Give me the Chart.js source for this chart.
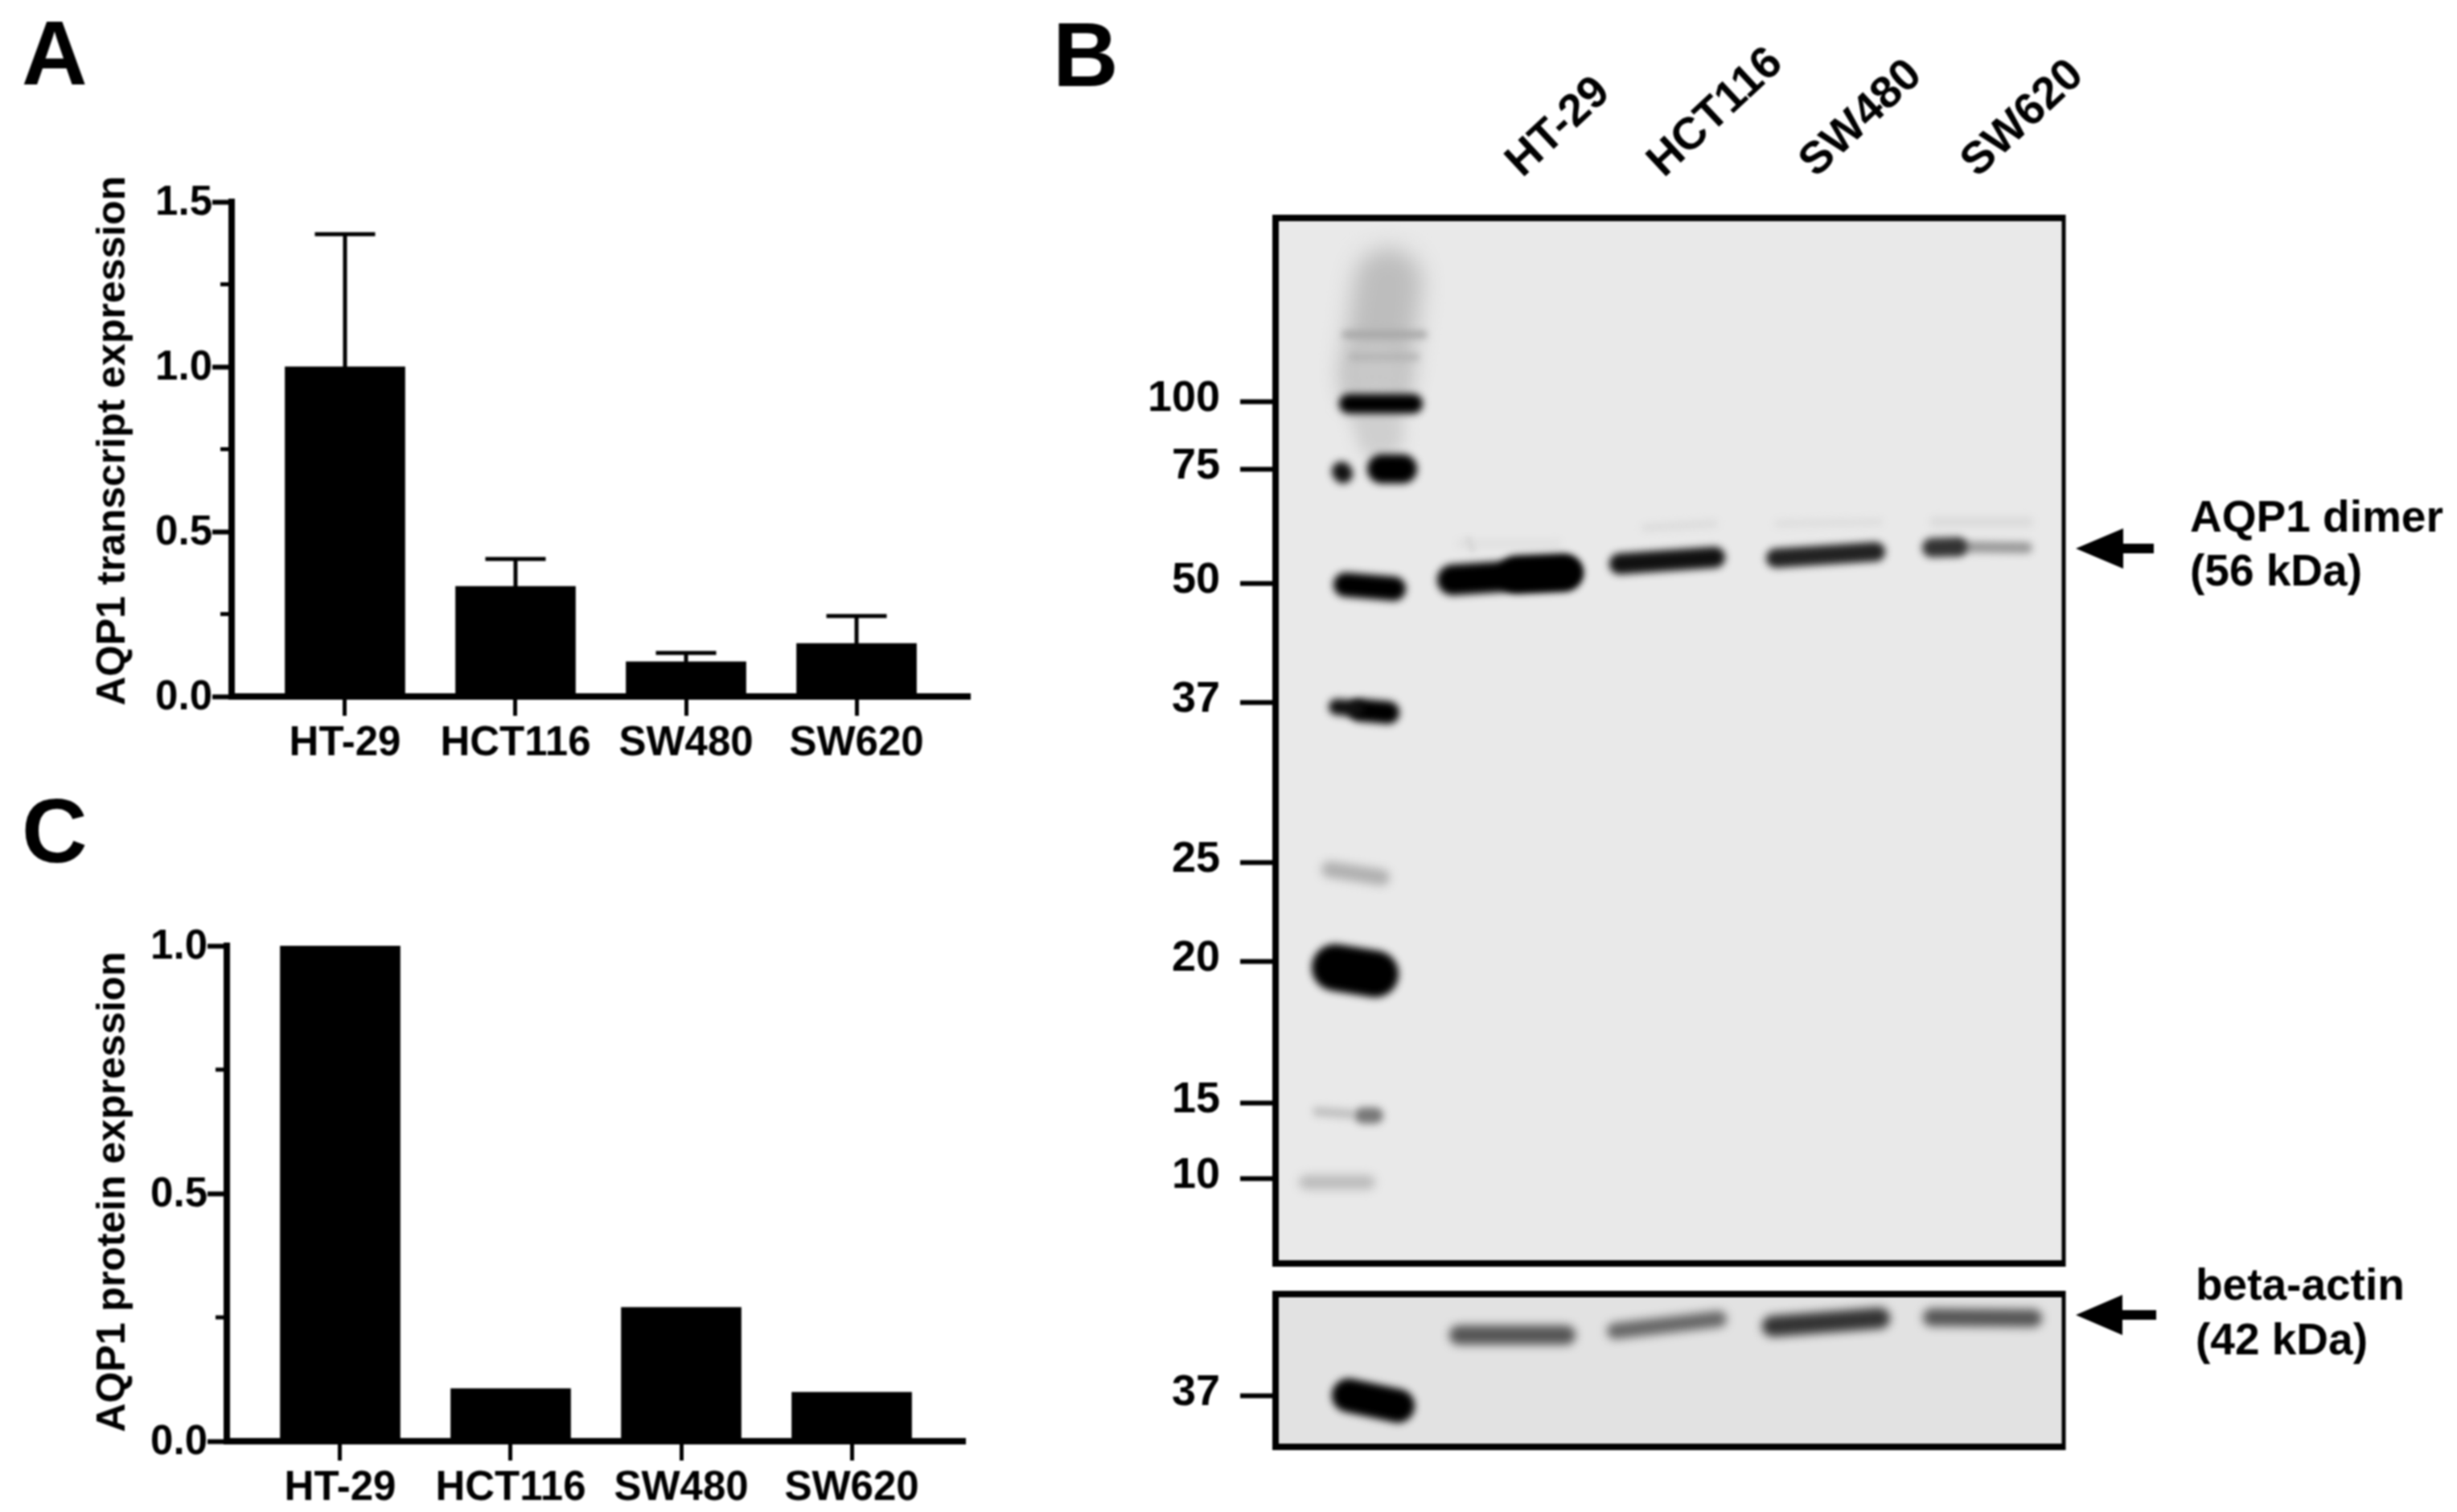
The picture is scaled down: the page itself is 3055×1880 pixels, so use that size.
<!DOCTYPE html>
<html>
<head>
<meta charset="utf-8">
<script src="https://cdn.jsdelivr.net/npm/chart.js@4"></script>
<style>
html,body{margin:0;padding:0;background:#fff;}
#page{position:absolute;left:0;top:0;width:3055px;height:1880px;background:#fff;overflow:hidden;filter:blur(1.2px);}
canvas{position:absolute;display:block;}
.t{position:absolute;font-family:"Liberation Sans",Arial,sans-serif;font-weight:700;color:#000;white-space:nowrap;}
.letter{font-size:113px;line-height:120px;}
.note{font-size:55px;line-height:60px;}
svg{position:absolute;left:0;top:0;}
</style>
</head>
<body>
<div id="page">
  <canvas id="chartA" width="1300" height="780" style="left:0;top:180px"></canvas>
  <canvas id="chartC" width="1300" height="780" style="left:0;top:1100px"></canvas>
  <canvas id="blotMain" width="1655" height="1880" style="left:1400px;top:0"></canvas>
  <canvas id="blotActin" width="1655" height="380" style="left:1400px;top:1500px"></canvas>
  <div class="t letter" style="left:27px;top:6px">A</div>
  <div class="t letter" style="left:1309px;top:8px">B</div>
  <div class="t letter" style="left:27px;top:973px">C</div>
  <div class="t note" style="left:2723px;top:612px">AQP1 dimer</div>
  <div class="t note" style="left:2723px;top:679px">(56 kDa)</div>
  <div class="t note" style="left:2730px;top:1567px">beta-actin</div>
  <div class="t note" style="left:2730px;top:1635px">(42 kDa)</div>
  <svg width="3055" height="1880">
    <polygon points="2581,682 2640,657 2640,676 2678,676 2678,688 2640,688 2640,707" fill="#000"/>
    <polygon points="2581,1635 2639,1610 2639,1629 2681,1629 2681,1641 2639,1641 2639,1660" fill="#000"/>
  </svg>
</div>
<script>
// ---- Bar panels (A, C) ----
const categories = ['HT-29', 'HCT116', 'SW480', 'SW620'];
const transcriptValues = [1.0, 0.334, 0.105, 0.161];
const transcriptErrorTops = [1.402, 0.417, 0.132, 0.244];
const proteinValues = [1.0, 0.106, 0.27, 0.099];
const transcriptMax = 1.5;
const proteinMax = 1.0;

// ---- Blot panel (B): positions are in gel units ----
const ladderLabels = ['100', '75', '50', '37', '25', '20', '15', '10'];
const ladderMigration = [228, 312, 454, 602, 801, 924, 1100, 1194];
const laneLabelPositions = [342, 518, 707, 908];
const actinLadderLabels = ['37'];
const actinLadderMigration = [126];

// each trace: x1, y1, x2, y2 (gel units)
const mainBandTraces = [
  [91,231,171,231],[132,312,158,312],[82,315,84,318],[87,456,147,461],
  [76,608,100,610],[105,612,140,615],[74,932,124,940],[108,1116,124,1116],
  [220,450,362,441],[300,443,358,441],[428,430,546,422],[622,423,746,415],
  [816,410,848,409],[850,409,934,410],
  [87,145,184,145],[95,173,175,173],[67,810,132,820],[52,1111,92,1114],[38,1199,115,1199],
  [240,400,245,412],[230,405,350,405],[460,385,545,380],[625,380,750,378],[820,378,935,378],
  [125,245,130,270],[125,190,125,215],[140,80,125,195]
];
const mainBandWidths = [24,36,24,30,20,28,58,20,38,46,26,24,24,14,9,7,20,12,18,8,10,10,10,14,60,75,85];
const mainBandColors = ['#000','#000','#111','#000','#111','#000','#000','#777','#000','#000','#111','#222',
  '#333','#999','#a5a5a5','#b0b0b0','#b0b0b0','#c0c0c0','#bcbcbc','#d8d8d8','#e0e0e0','#dcdcdc','#dedede','#dcdcdc',
  '#cfcfcf','#c8c8c8','#bdbdbd'];
const mainBandBlurs = [5,5,5,5,5,5,5,5,5,5,5,5,5,5,4,4,6,5,6,3,4,4,4,4,9,12,14];

const actinBandTraces = [
  [91,126,152,139],[228,51,361,51],[422,46,551,31],[618,40,751,30],[816,29,942,30]
];
const actinBandWidths = [42,24,20,26,22];
const actinBandColors = ['#000','#555','#666','#333','#555'];
const actinBandBlurs = [5,6,6,6,6];

const FONT = '"Liberation Sans", Arial, sans-serif';
Chart.defaults.animation = false;
Chart.defaults.devicePixelRatio = 1;

function axisFixed(size, prop) { return s => { s[prop] = size; }; }

function barPanel(id, values, errTops, yMax, yTitle, titleX, titleY, areaLeft, xAxisH, pad) {
  const extras = {
    id: 'extras' + id,
    afterDatasetsDraw(chart) {
      const c = chart.ctx, x = chart.scales.x, y = chart.scales.y;
      c.save();
      c.fillStyle = '#000';
      const area = chart.chartArea;
      y.ticks.forEach(t => {
        if (Math.abs(t.value / 0.5 - Math.round(t.value / 0.5)) > 1e-6) {
          c.fillRect(area.left - 14, y.getPixelForValue(t.value) - 2.5, 14, 5);
        }
      });
      if (errTops) errTops.forEach((top, i) => {
        const px = x.getPixelForValue(i), py = y.getPixelForValue(top), base = y.getPixelForValue(values[i]);
        c.fillRect(px - 2.5, py, 5, base - py);
        c.fillRect(px - 37.5, py - 2.5, 75, 5);
      });
      c.translate(titleX, titleY);
      c.rotate(-Math.PI / 2);
      c.font = 'bold 50px ' + FONT;
      c.textAlign = 'center';
      c.textBaseline = 'middle';
      c.fillText(yTitle, 0, 0);
      c.restore();
    }
  };
  return new Chart(document.getElementById(id), {
    type: 'bar',
    data: {
      labels: categories,
      datasets: [{
        data: values.map((v, i) => ({ x: i, y: v })),
        backgroundColor: '#000',
        borderWidth: 0,
        barThickness: 149
      }]
    },
    options: {
      responsive: false,
      layout: { padding: pad },
      plugins: { legend: { display: false }, tooltip: { enabled: false } },
      scales: {
        x: {
          type: 'linear', min: -0.665, max: 3.665, offset: false,
          afterBuildTicks: s => { s.ticks = categories.map((_, i) => ({ value: i })); },
          afterFit: axisFixed(xAxisH, 'height'),
          grid: { offset: false, drawOnChartArea: false, drawTicks: true, tickLength: 24, tickWidth: 5, tickColor: '#000' },
          border: { color: '#000', width: 8 },
          ticks: {
            autoSkip: false, maxRotation: 0, minRotation: 0, padding: 4, color: '#000',
            font: { family: FONT, weight: 'bold', size: 51 },
            callback: (v) => categories[v]
          }
        },
        y: {
          type: 'linear', min: 0, max: yMax,
          afterFit: axisFixed(areaLeft, 'width'),
          grid: {
            drawOnChartArea: false, drawTicks: true, tickLength: 24, tickWidth: 6,
            tickColor: ctx => (Math.abs(ctx.tick.value / 0.5 - Math.round(ctx.tick.value / 0.5)) < 1e-6 ? '#000' : 'rgba(0,0,0,0)')
          },
          border: { color: '#000', width: 8 },
          ticks: {
            stepSize: 0.25, autoSkip: false, padding: 0, labelOffset: 2, color: '#000',
            font: { family: FONT, weight: 'bold', size: 51 },
            callback: v => (Math.abs(v / 0.5 - Math.round(v / 0.5)) < 1e-6 ? v.toFixed(1) : '')
          }
        }
      }
    },
    plugins: [extras]
  });
}

barPanel('chartA', transcriptValues, transcriptErrorTops, transcriptMax, 'AQP1 transcript expression',
  141, 548 - 180, 288, 90, { top: 71, right: 94, bottom: 4, left: 0 });
barPanel('chartC', proteinValues, null, proteinMax, 'AQP1 protein expression',
  141, 1482 - 1100, 282, 80, { top: 76, right: 100, bottom: 8, left: 0 });

function blotPanel(id, traces, widths, colors, blurs, bg, yMax, tickVals, tickLabels, topLabels, pad, topH) {
  const blotFx = {
    id: 'blotFx' + id,
    beforeDatasetsDraw(chart) {
      const a = chart.chartArea, c = chart.ctx;
      c.save(); c.fillStyle = bg; c.fillRect(a.left, a.top, a.width, a.height); c.restore();
    },
    beforeDatasetDraw(chart, args) {
      const c = chart.ctx; c.save();
      c.filter = 'blur(' + blurs[args.index] + 'px)';
    },
    afterDatasetDraw(chart) { chart.ctx.restore(); },
    afterDatasetsDraw(chart) {
      const a = chart.chartArea, c = chart.ctx;
      c.save(); c.fillStyle = '#000';
      c.fillRect(a.left - 4, a.top - 4, a.width + 4, 8);
      c.fillRect(a.left - 4, a.bottom - 4, a.width + 4, 8);
      c.fillRect(a.left - 4, a.top - 4, 8, a.height + 8);
      c.fillRect(a.right - 2.5, a.top - 4, 5, a.height + 8);
      c.restore();
    }
  };
  return new Chart(document.getElementById(id), {
    type: 'line',
    data: {
      datasets: traces.map((t, i) => ({
        data: [{ x: t[0], y: t[1] }, { x: t[2], y: t[3] }],
        borderColor: colors[i],
        borderWidth: widths[i],
        borderCapStyle: 'round',
        pointRadius: 0,
        tension: 0,
        clip: false
      }))
    },
    options: {
      responsive: false,
      layout: { padding: pad },
      plugins: { legend: { display: false }, tooltip: { enabled: false } },
      scales: {
        x: {
          type: 'linear', position: 'top', min: 0, max: 980,
          display: !!topLabels,
          afterBuildTicks: s => { if (topLabels) s.ticks = laneLabelPositions.map(v => ({ value: v })); },
          afterFit: s => { if (topH) s.height = topH; },
          grid: { display: false },
          border: { display: false },
          ticks: {
            autoSkip: false, minRotation: 43, maxRotation: 43, padding: 28, color: '#000',
            font: { family: FONT, weight: 'bold', size: 56 },
            callback: (v, i) => (topLabels ? topLabels[i] : '')
          }
        },
        y: {
          type: 'linear', min: 0, max: yMax, reverse: true,
          afterBuildTicks: s => { s.ticks = tickVals.map(v => ({ value: v })); },
          afterFit: axisFixed(186, 'width'),
          grid: { drawOnChartArea: false, drawTicks: true, tickLength: 44, tickWidth: 6, tickColor: '#000' },
          border: { display: false },
          ticks: {
            autoSkip: false, padding: 25, labelOffset: -3, color: '#000',
            font: { family: FONT, weight: 'bold', size: 54 },
            callback: (v, i) => tickLabels[i]
          }
        }
      }
    },
    plugins: [blotFx]
  });
}

blotPanel('blotMain', mainBandTraces, mainBandWidths, mainBandColors, mainBandBlurs, '#e9e9e9', 1300,
  ladderMigration, ladderLabels, categories, { top: 0, right: 489, bottom: 309, left: 0 }, 271);
blotPanel('blotActin', actinBandTraces, actinBandWidths, actinBandColors, actinBandBlurs, '#e2e2e2', 190,
  actinLadderMigration, actinLadderLabels, null, { top: 109, right: 489, bottom: 81, left: 0 }, 0);
</script>
</body>
</html>
